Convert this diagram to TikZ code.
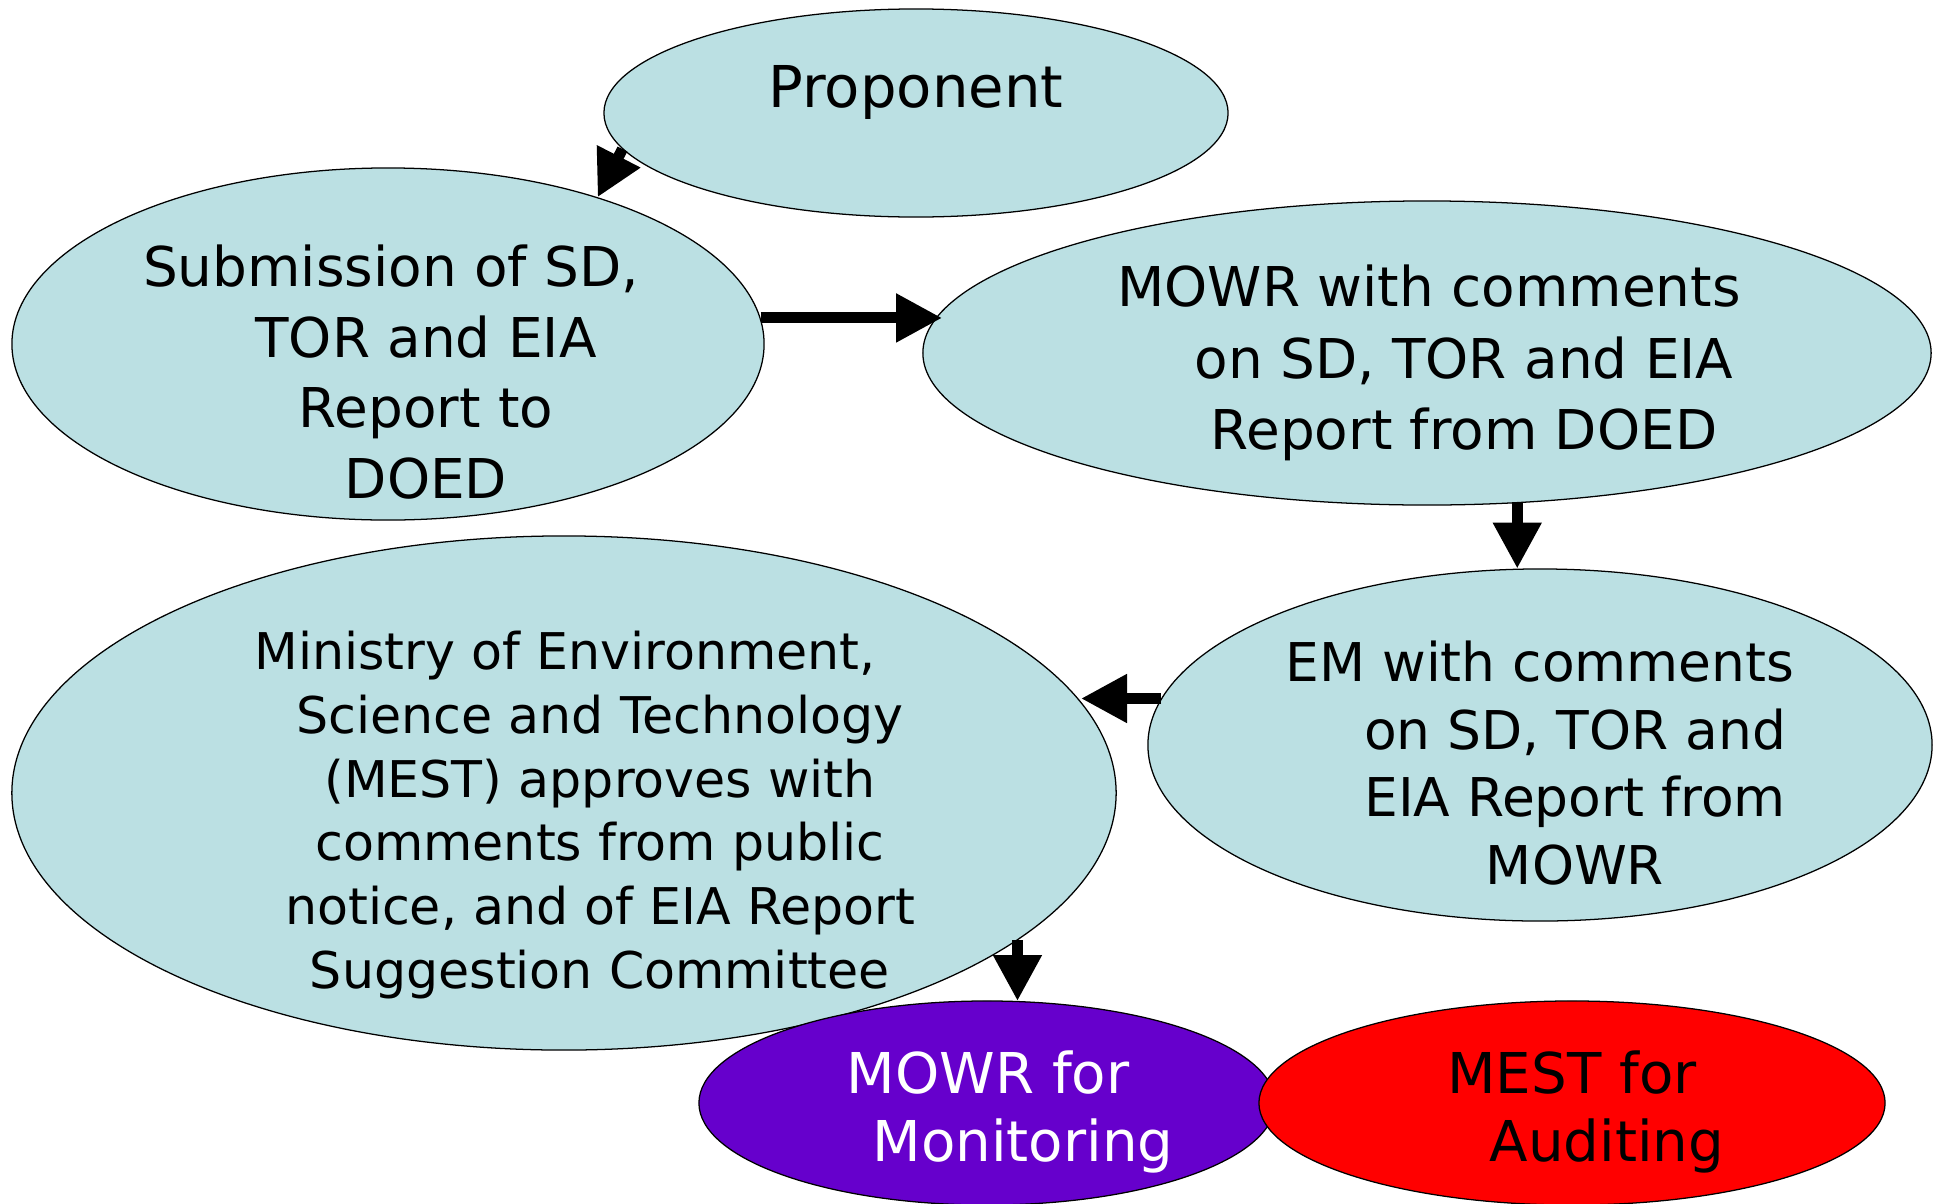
\documentclass[tikz,border=0pt]{standalone}
\usepackage{fontspec}
\setmainfont{DejaVu Sans}
\usepackage{xcolor}
\usepackage{tikz}
\usetikzlibrary{shapes.geometric, arrows.meta}
\definecolor{paleblue}{RGB}{187,224,227}
\definecolor{deeppurple}{RGB}{102,0,204}
\tikzstyle{bubble} = [ellipse, draw=black, line width=0.9pt, fill=paleblue, inner sep=0pt]
\tikzstyle{bubtxt} = [align=center, inner sep=0pt, font=\fontsize{39}{50.2}\selectfont]
\tikzstyle{arrow} = [line width=7.8pt, -{Triangle[length=1.15cm, width=1.15cm]}]
\newcommand{\ind}{\hspace*{1.75cm}}

\begin{document}
\begin{tikzpicture}[x=0.025cm, y=-0.025cm]
    \useasboundingbox (0,0) rectangle (1941,1204);

    % Stages
    \node[bubble, minimum width=15.6cm, minimum height=5.2cm] (prop) at (916,113) {};
    \node[bubble, minimum width=18.8cm, minimum height=8.8cm] (sub) at (388,344) {};
    \node[bubble, minimum width=25.2cm, minimum height=7.6cm] (mowrc) at (1427,353) {};
    \node[bubble, minimum width=27.6cm, minimum height=12.85cm] (min) at (564,793) {};
    \node[bubble, minimum width=19.6cm, minimum height=8.8cm] (em) at (1540,745) {};

    % Follow-up
    \node[bubble, fill=deeppurple, minimum width=14.4cm, minimum height=5.1cm] (mon) at (987,1103) {};
    \node[bubble, fill=red, minimum width=15.65cm, minimum height=5.1cm] (aud) at (1572,1103) {};

    % Texts
    \node[bubtxt, font=\fontsize{41}{52}\selectfont] (proptxt) at (916,92) {Proponent};
    \node[bubtxt] (subtxt) at (391,372) {Submission of SD,\\ \ind TOR and EIA\\ \ind Report to\\ \ind DOED};
    \node[bubtxt, font=\fontsize{39}{50.6}\selectfont] (mowrctxt) at (1429,363) {MOWR with comments\\ \ind on SD, TOR and EIA\\ \ind Report from DOED};
    \node[bubtxt, font=\fontsize{38}{48.2}\selectfont] (emtxt) at (1540,763) {EM with comments\\ \ind on SD, TOR and\\ \ind EIA Report from\\ \ind MOWR};
    \node[bubtxt, font=\fontsize{36}{45.4}\selectfont] (mintxt) at (565,815) {Ministry of Environment,\\ \ind Science and Technology\\ \ind (MEST) approves with\\ \ind comments from public\\ \ind notice, and of EIA Report\\ \ind Suggestion Committee};
    \node[bubtxt, text=white, font=\fontsize{40}{48.4}\selectfont] (montxt) at (988,1112) {MOWR for\\ \ind Monitoring};
    \node[bubtxt, font=\fontsize{40}{48.4}\selectfont] (audtxt) at (1572,1112) {MEST for\\ \ind Auditing};

    % Flows
    \draw[arrow] (prop.187.4) -- (sub.35.5);
    \draw[arrow] (sub.4.2) -- (sub.4.2 -| mowrc.175.3);
    \draw[arrow] (mowrc.-59.3) -- (mowrc.-59.3 |- em.97.4);
    \draw[arrow] (em.173.5) -- (em.173.5 -| min.10.9);
    \draw[arrow] (min.-18.2) -- (min.-18.2 |- mon.72);

\end{tikzpicture}
\end{document}
